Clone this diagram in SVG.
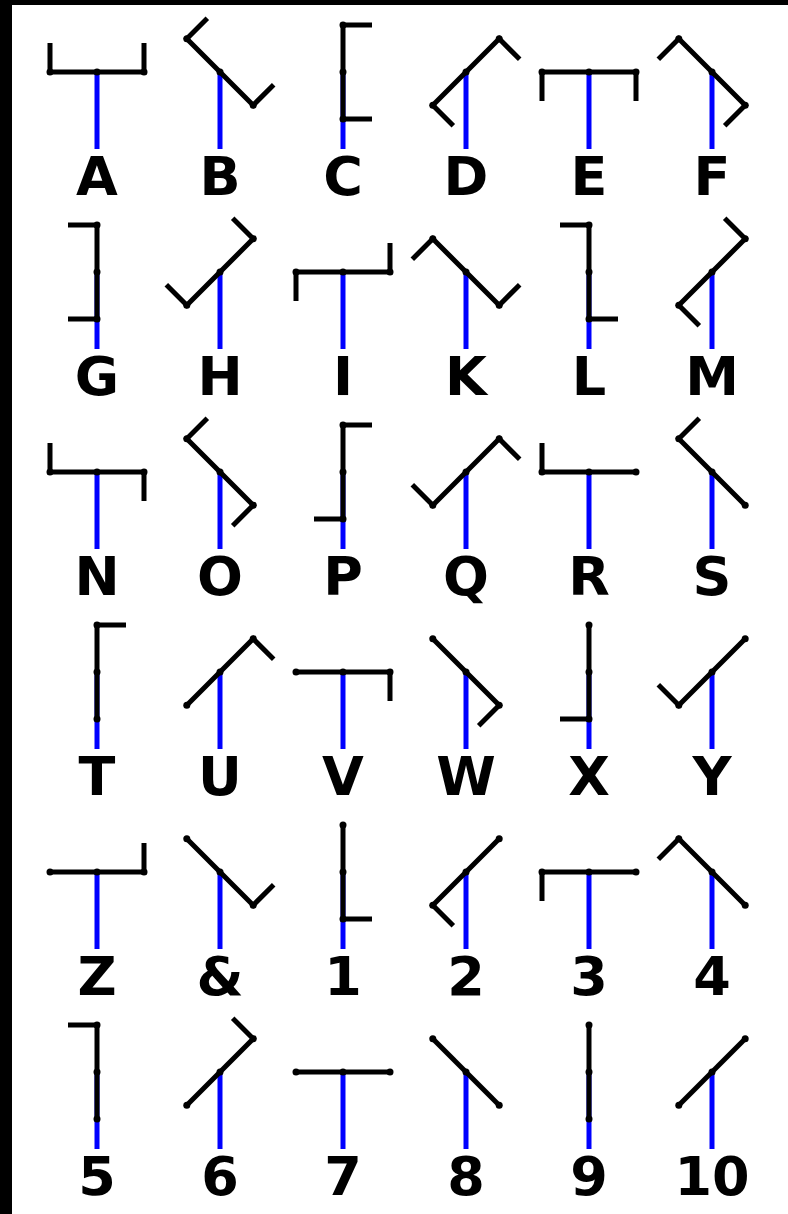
<svg xmlns="http://www.w3.org/2000/svg" xmlns:xlink="http://www.w3.org/1999/xlink" width="788" height="1214" viewBox="0 0 788 1214">
<style>
.post{stroke:#0000ff;stroke-width:5;fill:none}
.arm{stroke:#000;stroke-width:5;fill:none;stroke-linejoin:miter;stroke-linecap:butt}
.dot{fill:#000}
.lbl{font-family:"DejaVu Sans","Liberation Sans",sans-serif;font-weight:bold;font-size:54px;fill:#000;text-anchor:middle}
</style>
<defs>
<g id="H"><line class="post" x1="0" y1="0" x2="0" y2="77"/></g>
<g id="dH"><circle class="dot" cx="-47" cy="0" r="3.5"/><circle class="dot" cx="0" cy="0" r="3.5"/><circle class="dot" cx="47" cy="0" r="3.5"/></g>
<g id="dV"><circle class="dot" cx="0" cy="-47" r="3.5"/><circle class="dot" cx="0" cy="0" r="3.5"/><circle class="dot" cx="0" cy="47" r="3.5"/></g>
<g id="dA"><circle class="dot" cx="33.2" cy="-33.2" r="3.5"/><circle class="dot" cx="0" cy="0" r="3.5"/><circle class="dot" cx="-33.2" cy="33.2" r="3.5"/></g>
<g id="dB"><circle class="dot" cx="-33.2" cy="-33.2" r="3.5"/><circle class="dot" cx="0" cy="0" r="3.5"/><circle class="dot" cx="33.2" cy="33.2" r="3.5"/></g>
</defs>
<rect x="0" y="0" width="788" height="1214" fill="#000"/>
<rect x="12" y="5" width="776" height="1209" fill="#fff"/>
<g id="nodes">
<!-- Row 1 -->
<g id="node-A" transform="translate(97,72)"><use xlink:href="#H"/><path class="arm" d="M-47,-29 L-47,0 L47,0 L47,-29"/><use xlink:href="#dH"/><text class="lbl" x="0" y="123">A</text></g>
<g id="node-B" transform="translate(220,72)"><use xlink:href="#H"/><path class="arm" d="M-12.7,-53.7 L-33.2,-33.2 L33.2,33.2 L53.7,12.7"/><use xlink:href="#dB"/><text class="lbl" x="0" y="123">B</text></g>
<g id="node-C" transform="translate(343,72)"><use xlink:href="#H"/><path class="arm" d="M29,-47 L0,-47 L0,47 L29,47"/><use xlink:href="#dV"/><text class="lbl" x="0" y="123">C</text></g>
<g id="node-D" transform="translate(466,72)"><use xlink:href="#H"/><path class="arm" d="M53.7,-12.7 L33.2,-33.2 L-33.2,33.2 L-12.7,53.7"/><use xlink:href="#dA"/><text class="lbl" x="0" y="123">D</text></g>
<g id="node-E" transform="translate(589,72)"><use xlink:href="#H"/><path class="arm" d="M-47,29 L-47,0 L47,0 L47,29"/><use xlink:href="#dH"/><text class="lbl" x="0" y="123">E</text></g>
<g id="node-F" transform="translate(712,72)"><use xlink:href="#H"/><path class="arm" d="M-53.7,-12.7 L-33.2,-33.2 L33.2,33.2 L12.7,53.7"/><use xlink:href="#dB"/><text class="lbl" x="0" y="123">F</text></g>
<!-- Row 2 -->
<g id="node-G" transform="translate(97,272)"><use xlink:href="#H"/><path class="arm" d="M-29,-47 L0,-47 L0,47 L-29,47"/><use xlink:href="#dV"/><text class="lbl" x="0" y="123">G</text></g>
<g id="node-H" transform="translate(220,272)"><use xlink:href="#H"/><path class="arm" d="M12.7,-53.7 L33.2,-33.2 L-33.2,33.2 L-53.7,12.7"/><use xlink:href="#dA"/><text class="lbl" x="0" y="123">H</text></g>
<g id="node-I" transform="translate(343,272)"><use xlink:href="#H"/><path class="arm" d="M-47,29 L-47,0 L47,0 L47,-29"/><use xlink:href="#dH"/><text class="lbl" x="0" y="123">I</text></g>
<g id="node-K" transform="translate(466,272)"><use xlink:href="#H"/><path class="arm" d="M-53.7,-12.7 L-33.2,-33.2 L33.2,33.2 L53.7,12.7"/><use xlink:href="#dB"/><text class="lbl" x="0" y="123">K</text></g>
<g id="node-L" transform="translate(589,272)"><use xlink:href="#H"/><path class="arm" d="M-29,-47 L0,-47 L0,47 L29,47"/><use xlink:href="#dV"/><text class="lbl" x="0" y="123">L</text></g>
<g id="node-M" transform="translate(712,272)"><use xlink:href="#H"/><path class="arm" d="M12.7,-53.7 L33.2,-33.2 L-33.2,33.2 L-12.7,53.7"/><use xlink:href="#dA"/><text class="lbl" x="0" y="123">M</text></g>
<!-- Row 3 -->
<g id="node-N" transform="translate(97,472)"><use xlink:href="#H"/><path class="arm" d="M-47,-29 L-47,0 L47,0 L47,29"/><use xlink:href="#dH"/><text class="lbl" x="0" y="123">N</text></g>
<g id="node-O" transform="translate(220,472)"><use xlink:href="#H"/><path class="arm" d="M-12.7,-53.7 L-33.2,-33.2 L33.2,33.2 L12.7,53.7"/><use xlink:href="#dB"/><text class="lbl" x="0" y="123">O</text></g>
<g id="node-P" transform="translate(343,472)"><use xlink:href="#H"/><path class="arm" d="M29,-47 L0,-47 L0,47 L-29,47"/><use xlink:href="#dV"/><text class="lbl" x="0" y="123">P</text></g>
<g id="node-Q" transform="translate(466,472)"><use xlink:href="#H"/><path class="arm" d="M53.7,-12.7 L33.2,-33.2 L-33.2,33.2 L-53.7,12.7"/><use xlink:href="#dA"/><text class="lbl" x="0" y="123">Q</text></g>
<g id="node-R" transform="translate(589,472)"><use xlink:href="#H"/><path class="arm" d="M-47,-29 L-47,0 L47,0"/><use xlink:href="#dH"/><text class="lbl" x="0" y="123">R</text></g>
<g id="node-S" transform="translate(712,472)"><use xlink:href="#H"/><path class="arm" d="M-12.7,-53.7 L-33.2,-33.2 L33.2,33.2"/><use xlink:href="#dB"/><text class="lbl" x="0" y="123">S</text></g>
<!-- Row 4 -->
<g id="node-T" transform="translate(97,672)"><use xlink:href="#H"/><path class="arm" d="M29,-47 L0,-47 L0,47"/><use xlink:href="#dV"/><text class="lbl" x="0" y="123">T</text></g>
<g id="node-U" transform="translate(220,672)"><use xlink:href="#H"/><path class="arm" d="M53.7,-12.7 L33.2,-33.2 L-33.2,33.2"/><use xlink:href="#dA"/><text class="lbl" x="0" y="123">U</text></g>
<g id="node-V" transform="translate(343,672)"><use xlink:href="#H"/><path class="arm" d="M-47,0 L47,0 L47,29"/><use xlink:href="#dH"/><text class="lbl" x="0" y="123">V</text></g>
<g id="node-W" transform="translate(466,672)"><use xlink:href="#H"/><path class="arm" d="M-33.2,-33.2 L33.2,33.2 L12.7,53.7"/><use xlink:href="#dB"/><text class="lbl" x="0" y="123">W</text></g>
<g id="node-X" transform="translate(589,672)"><use xlink:href="#H"/><path class="arm" d="M0,-47 L0,47 L-29,47"/><use xlink:href="#dV"/><text class="lbl" x="0" y="123">X</text></g>
<g id="node-Y" transform="translate(712,672)"><use xlink:href="#H"/><path class="arm" d="M33.2,-33.2 L-33.2,33.2 L-53.7,12.7"/><use xlink:href="#dA"/><text class="lbl" x="0" y="123">Y</text></g>
<!-- Row 5 -->
<g id="node-Z" transform="translate(97,872)"><use xlink:href="#H"/><path class="arm" d="M-47,0 L47,0 L47,-29"/><use xlink:href="#dH"/><text class="lbl" x="0" y="123">Z</text></g>
<g id="node-amp" transform="translate(220,872)"><use xlink:href="#H"/><path class="arm" d="M-33.2,-33.2 L33.2,33.2 L53.7,12.7"/><use xlink:href="#dB"/><text class="lbl" x="0" y="123">&amp;</text></g>
<g id="node-1" transform="translate(343,872)"><use xlink:href="#H"/><path class="arm" d="M0,-47 L0,47 L29,47"/><use xlink:href="#dV"/><text class="lbl" x="0" y="123">1</text></g>
<g id="node-2" transform="translate(466,872)"><use xlink:href="#H"/><path class="arm" d="M33.2,-33.2 L-33.2,33.2 L-12.7,53.7"/><use xlink:href="#dA"/><text class="lbl" x="0" y="123">2</text></g>
<g id="node-3" transform="translate(589,872)"><use xlink:href="#H"/><path class="arm" d="M-47,29 L-47,0 L47,0"/><use xlink:href="#dH"/><text class="lbl" x="0" y="123">3</text></g>
<g id="node-4" transform="translate(712,872)"><use xlink:href="#H"/><path class="arm" d="M-53.7,-12.7 L-33.2,-33.2 L33.2,33.2"/><use xlink:href="#dB"/><text class="lbl" x="0" y="123">4</text></g>
<!-- Row 6 -->
<g id="node-5" transform="translate(97,1072)"><use xlink:href="#H"/><path class="arm" d="M-29,-47 L0,-47 L0,47"/><use xlink:href="#dV"/><text class="lbl" x="0" y="123">5</text></g>
<g id="node-6" transform="translate(220,1072)"><use xlink:href="#H"/><path class="arm" d="M12.7,-53.7 L33.2,-33.2 L-33.2,33.2"/><use xlink:href="#dA"/><text class="lbl" x="0" y="123">6</text></g>
<g id="node-7" transform="translate(343,1072)"><use xlink:href="#H"/><path class="arm" d="M-47,0 L47,0"/><use xlink:href="#dH"/><text class="lbl" x="0" y="123">7</text></g>
<g id="node-8" transform="translate(466,1072)"><use xlink:href="#H"/><path class="arm" d="M-33.2,-33.2 L33.2,33.2"/><use xlink:href="#dB"/><text class="lbl" x="0" y="123">8</text></g>
<g id="node-9" transform="translate(589,1072)"><use xlink:href="#H"/><path class="arm" d="M0,-47 L0,47"/><use xlink:href="#dV"/><text class="lbl" x="0" y="123">9</text></g>
<g id="node-10" transform="translate(712,1072)"><use xlink:href="#H"/><path class="arm" d="M33.2,-33.2 L-33.2,33.2"/><use xlink:href="#dA"/><text class="lbl" x="0" y="123">10</text></g>
</g>
<g id="connectors"/>
</svg>
